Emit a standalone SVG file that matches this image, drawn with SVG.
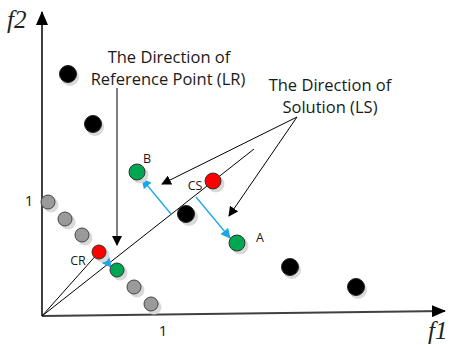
<svg xmlns="http://www.w3.org/2000/svg" width="452" height="345" viewBox="0 0 452 345">
<style>
.lbl{font-family:"Open Sans","Liberation Sans",sans-serif;font-size:16.5px;fill:#1a1a1a;text-anchor:middle}
.one{font-family:"Open Sans","Liberation Sans",sans-serif;font-size:15px;fill:#1a1a1a;text-anchor:middle}
.sm{font-family:"Open Sans","Liberation Sans",sans-serif;font-size:12.5px;fill:#1a1a1a;text-anchor:middle}
.ax{font-family:"Liberation Serif","DejaVu Serif",serif;font-style:italic;font-size:25px;fill:#222}
.sh{fill:#d9d9d9}
.blk{fill:#000;stroke:#222;stroke-width:1}
.gry{fill:#9a9a9a;stroke:#444;stroke-width:1}
.red{fill:#ff0000;stroke:#333;stroke-width:1}
.grn{fill:#00a651;stroke:#333;stroke-width:1}
.bl{stroke:#1aa7e8;stroke-width:1.3;fill:none}
.ln{stroke:#000;stroke-width:1;fill:none}
</style>
<defs>
<marker id="ah" markerWidth="10" markerHeight="10" refX="9" refY="5" orient="auto" markerUnits="userSpaceOnUse"><path d="M0,0 L10,5 L0,10 Z" fill="#000"/></marker>
<marker id="ahb" markerWidth="10" markerHeight="10" refX="9" refY="5" orient="auto" markerUnits="userSpaceOnUse"><path d="M0,0 L10,5 L0,10 Z" fill="#1aa7e8"/></marker>
<marker id="aha" markerWidth="14" markerHeight="12" refX="13" refY="6" orient="auto" markerUnits="userSpaceOnUse"><path d="M0,0 L14,6 L0,12 Z" fill="#000"/></marker>
</defs>
<g id="axes">
<line x1="42" y1="316" x2="42" y2="12" stroke="#404040" stroke-width="2" marker-end="url(#aha)"/>
<line x1="42" y1="316" x2="445" y2="311" stroke="#404040" stroke-width="2" marker-end="url(#aha)"/>
<text class="ax" x="7" y="28">f2</text>
<text class="ax" x="428" y="339">f1</text>
<text class="one" x="29" y="206">1</text>
<text class="one" x="163" y="336">1</text>
</g>
<g id="connectors">
<line class="ln" x1="42" y1="316" x2="254" y2="149"/>
<line class="ln" x1="42" y1="316" x2="99" y2="252"/>
<line class="ln" x1="117" y1="88" x2="117" y2="245" marker-end="url(#ah)"/>
<line class="ln" x1="297" y1="117" x2="162" y2="184" marker-end="url(#ah)"/>
<line class="ln" x1="297" y1="117" x2="229" y2="216" marker-end="url(#ah)"/>
<line class="bl" x1="171" y1="214" x2="142" y2="179" marker-end="url(#ahb)"/>
<line class="bl" x1="196" y1="197" x2="230" y2="238" marker-end="url(#ahb)"/>
<line class="bl" x1="100" y1="253" x2="111" y2="267" marker-end="url(#ahb)"/>
</g>
<g id="black-points">
<circle class="sh" cx="70" cy="77" r="9"/><circle class="blk" cx="68" cy="74" r="8.5"/>
<circle class="sh" cx="95" cy="127" r="9"/><circle class="blk" cx="93" cy="124" r="8.5"/>
<circle class="sh" cx="189" cy="217" r="9"/><circle class="blk" cx="186" cy="214" r="8.5"/>
<circle class="sh" cx="292" cy="270" r="9"/><circle class="blk" cx="290" cy="267" r="8.5"/>
<circle class="sh" cx="358" cy="290" r="9"/><circle class="blk" cx="356" cy="287" r="8.5"/>
</g>
<g id="gray-points">
<circle class="sh" cx="51" cy="205" r="7.5"/><circle class="gry" cx="48" cy="202" r="7"/>
<circle class="sh" cx="68" cy="222" r="7.5"/><circle class="gry" cx="65" cy="219" r="7"/>
<circle class="sh" cx="85" cy="238" r="7.5"/><circle class="gry" cx="82" cy="235" r="7"/>
<circle class="sh" cx="137" cy="290" r="7.5"/><circle class="gry" cx="134" cy="287" r="7"/>
<circle class="sh" cx="154" cy="307" r="7.5"/><circle class="gry" cx="151" cy="304" r="7"/>
</g>
<g id="CR">
<circle class="sh" cx="102" cy="255" r="7.5"/><circle class="red" cx="99" cy="252" r="7"/>
<text class="sm" x="78" y="265">CR</text>
</g>
<g id="CR-green">
<circle class="sh" cx="120" cy="273" r="7.5"/><circle class="grn" cx="117" cy="270" r="7"/>
</g>
<g id="B">
<circle class="sh" cx="140" cy="175" r="8.5"/><circle class="grn" cx="137" cy="172" r="8"/>
<text class="sm" x="147" y="163">B</text>
</g>
<g id="CS">
<circle class="sh" cx="216" cy="184" r="8.5"/><circle class="red" cx="213" cy="181" r="8"/>
<text class="sm" x="195" y="190">CS</text>
</g>
<g id="A">
<circle class="sh" cx="240" cy="246" r="8.5"/><circle class="grn" cx="237" cy="243" r="8"/>
<text class="sm" x="260" y="242">A</text>
</g>
<g id="label-LR">
<text class="lbl" x="169" y="63">The Direction of</text>
<text class="lbl" x="168" y="85">Reference Point (LR)</text>
</g>
<g id="label-LS">
<text class="lbl" x="330" y="91">The Direction of</text>
<text class="lbl" x="330" y="113">Solution (LS)</text>
</g>
</svg>
